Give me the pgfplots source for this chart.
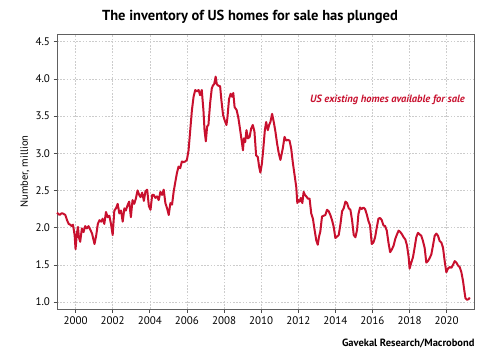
\documentclass[border=0pt]{standalone}
\usepackage{fontspec}
\setmainfont{PT Sans}
\usepackage{pgfplots}
\pgfplotsset{compat=1.18}
\usepackage{pgfplotstable}
\definecolor{linered}{RGB}{200,16,46}
\pgfplotstableread{
year val
1999.00 2.20
1999.14 2.17
1999.23 2.19
1999.32 2.19
1999.45 2.17
1999.54 2.10
1999.63 2.05
1999.71 2.04
1999.80 2.02
1999.86 2.04
1999.95 1.90
2000.00 1.71
2000.07 1.92
2000.13 2.01
2000.18 1.87
2000.25 1.81
2000.34 1.99
2000.43 1.94
2000.52 2.02
2000.61 1.99
2000.70 2.02
2000.80 1.97
2000.89 1.92
2001.02 1.78
2001.11 1.89
2001.20 2.05
2001.29 2.10
2001.38 2.08
2001.46 2.12
2001.55 2.05
2001.64 2.21
2001.73 2.14
2001.82 2.16
2001.91 2.05
2002.00 1.90
2002.09 2.23
2002.18 2.26
2002.27 2.32
2002.36 2.19
2002.45 2.23
2002.54 2.08
2002.63 2.26
2002.71 2.23
2002.80 2.30
2002.89 2.35
2002.98 2.14
2003.07 2.37
2003.16 2.32
2003.25 2.39
2003.34 2.50
2003.43 2.44
2003.50 2.41
2003.59 2.47
2003.68 2.36
2003.77 2.49
2003.86 2.51
2003.95 2.29
2004.04 2.24
2004.13 2.44
2004.21 2.44
2004.30 2.40
2004.39 2.42
2004.48 2.37
2004.57 2.48
2004.66 2.44
2004.75 2.51
2004.84 2.33
2004.93 2.26
2005.02 2.17
2005.11 2.33
2005.20 2.31
2005.29 2.49
2005.38 2.62
2005.46 2.73
2005.55 2.82
2005.64 2.80
2005.73 2.89
2005.82 2.88
2005.91 2.89
2006.00 2.91
2006.09 3.04
2006.18 3.31
2006.27 3.58
2006.36 3.76
2006.45 3.85
2006.54 3.83
2006.63 3.85
2006.71 3.78
2006.80 3.85
2006.89 3.58
2006.95 3.31
2007.02 3.16
2007.09 3.36
2007.16 3.38
2007.25 3.67
2007.34 3.87
2007.40 3.91
2007.47 3.93
2007.55 4.03
2007.61 3.93
2007.68 3.91
2007.79 3.90
2007.86 3.71
2007.95 3.51
2008.04 3.44
2008.13 3.38
2008.18 3.47
2008.27 3.73
2008.36 3.80
2008.43 3.76
2008.50 3.81
2008.57 3.62
2008.68 3.58
2008.77 3.48
2008.86 3.33
2008.95 3.17
2009.02 3.04
2009.07 3.20
2009.14 3.15
2009.21 3.31
2009.29 3.20
2009.38 3.22
2009.46 3.33
2009.55 3.38
2009.64 3.29
2009.73 2.97
2009.82 2.95
2009.89 2.82
2009.96 2.74
2010.04 2.86
2010.11 3.04
2010.20 3.31
2010.27 3.42
2010.36 3.31
2010.43 3.38
2010.50 3.42
2010.59 3.53
2010.68 3.42
2010.77 3.29
2010.86 3.13
2010.95 3.00
2011.04 2.91
2011.17 3.07
2011.26 3.22
2011.35 3.17
2011.44 3.18
2011.53 3.17
2011.62 3.06
2011.71 2.87
2011.80 2.71
2011.89 2.55
2011.95 2.33
2012.02 2.37
2012.07 2.35
2012.14 2.40
2012.22 2.33
2012.29 2.48
2012.36 2.44
2012.43 2.42
2012.52 2.39
2012.61 2.39
2012.70 2.19
2012.79 2.12
2012.88 1.97
2012.97 1.83
2013.05 1.77
2013.12 1.88
2013.19 1.95
2013.28 2.15
2013.37 2.16
2013.46 2.17
2013.55 2.24
2013.64 2.22
2013.73 2.17
2013.82 2.10
2013.91 2.01
2014.00 1.86
2014.09 1.88
2014.18 1.90
2014.27 2.04
2014.36 2.22
2014.45 2.26
2014.54 2.35
2014.63 2.33
2014.72 2.26
2014.81 2.24
2014.90 2.10
2014.99 1.90
2015.08 1.87
2015.17 1.97
2015.24 2.18
2015.33 2.27
2015.42 2.25
2015.51 2.27
2015.60 2.25
2015.69 2.18
2015.78 2.09
2015.87 2.03
2015.96 1.78
2016.05 1.80
2016.14 1.87
2016.23 2.00
2016.32 2.12
2016.41 2.13
2016.50 2.10
2016.59 2.03
2016.68 2.02
2016.77 1.96
2016.86 1.80
2016.95 1.67
2017.05 1.71
2017.14 1.76
2017.23 1.85
2017.32 1.91
2017.41 1.96
2017.50 1.94
2017.59 1.91
2017.68 1.87
2017.77 1.84
2017.86 1.76
2017.95 1.60
2018.00 1.45
2018.09 1.53
2018.18 1.60
2018.27 1.73
2018.36 1.87
2018.45 1.93
2018.54 1.91
2018.63 1.89
2018.72 1.82
2018.81 1.73
2018.90 1.53
2018.99 1.55
2019.08 1.59
2019.17 1.64
2019.26 1.76
2019.35 1.89
2019.44 1.92
2019.53 1.89
2019.62 1.82
2019.71 1.80
2019.80 1.73
2019.89 1.55
2019.98 1.40
2020.07 1.45
2020.16 1.47
2020.25 1.46
2020.34 1.50
2020.43 1.55
2020.52 1.53
2020.61 1.49
2020.70 1.47
2020.79 1.40
2020.88 1.28
2020.95 1.15
2021.01 1.05
2021.10 1.03
2021.19 1.04
2021.24 1.06
}\inventory
\begin{document}
\begin{tikzpicture}
\useasboundingbox (-57pt,-45pt) rectangle (443pt,309pt);
\begin{axis}[
  at={(0pt,0pt)}, anchor=south west,
  scale only axis, width=417pt, height=275pt,
  xmin=1999, xmax=2021.47, ymin=0.906, ymax=4.603,
  xtick={2000,2002,...,2020},
  ytick={1.0,1.5,...,4.5},
  xtick pos=bottom, ytick pos=left,
  tick align=outside, major tick length=3.5pt,
  tick style={draw=gray!60!black, line width=0.6pt},
  axis line style={draw=gray!75!black, line width=0.8pt},
  grid=major,
  major grid style={draw=gray!40, dash pattern=on 1.6pt off 1.6pt, line width=0.5pt},
  /pgf/number format/assume math mode=true,
  x tick label style={/pgf/number format/1000 sep={}, font=\fontsize{11}{13}\selectfont, yshift=-1pt},
  y tick label style={/pgf/number format/.cd, fixed, fixed zerofill, precision=1, /tikz/.cd, font=\fontsize{11}{13}\selectfont},
  ylabel={Number, million},
  ylabel style={at={(axis description cs:-0.077,0.5)}, anchor=center, font=\fontsize{10.5}{12}\selectfont},
  clip=false,
]
\addplot[linered, line width=2pt, line join=round] table[x=year, y=val] {\inventory};
\node[anchor=west, text=linered, font=\fontsize{10.5}{12}\selectfont\bfseries\itshape] at (axis cs:2012.45,3.715) {US existing homes available for sale};
\end{axis}
\node[font=\fontsize{14.5}{16}\selectfont\bfseries] at (193pt,292pt) {The inventory of US homes for sale has plunged};
\node[anchor=east, font=\fontsize{10.5}{12}\selectfont\bfseries] at (421pt,-34.3pt) {Gavekal Research/Macrobond};
\end{tikzpicture}
\end{document}
